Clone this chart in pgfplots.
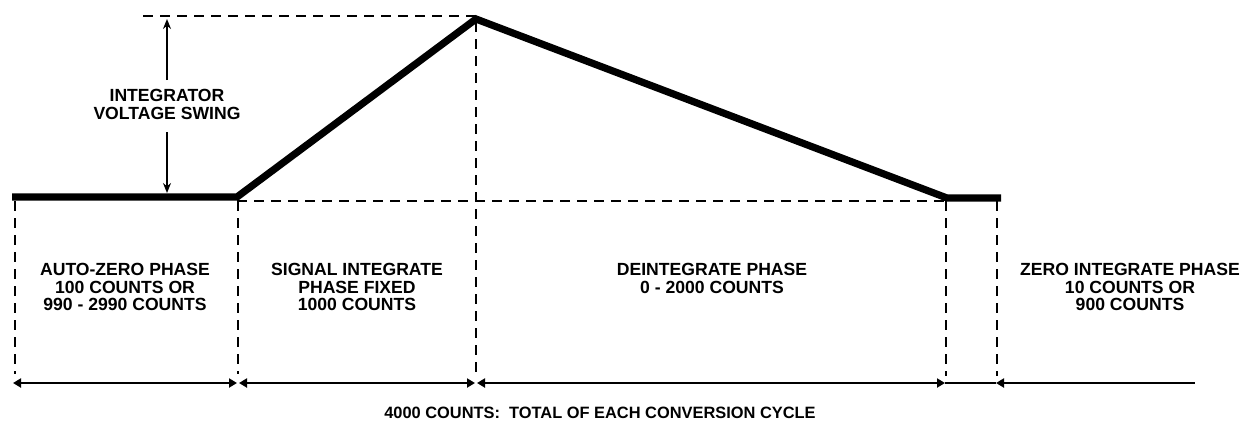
\documentclass[border=0pt]{standalone}
\usepackage{fontspec}
\setmainfont{Liberation Sans}
\usepackage{pgfplots}
\pgfplotsset{compat=1.18}
\usetikzlibrary{arrows.meta}
\tikzset{lbl/.style={font=\fontsize{8.8}{8.6}\selectfont\bfseries, align=center, inner sep=0pt}}
\begin{document}
\begin{tikzpicture}
\begin{axis}[
  scale only axis, width=624.5pt, height=212pt,
  xmin=0, xmax=1249, ymin=0, ymax=424, y dir=reverse,
  hide axis, clip=false,
]
% invisible frame for bounding box
\addplot[draw=none] coordinates {(0,0) (1249,424)};
% dashed guides
\pgfplotsset{guide/.style={black, line width=0.75pt, dash pattern=on 5pt off 3.5pt}}
\addplot[guide] coordinates {(143,16) (476,16)};
\addplot[guide] coordinates {(237,201) (947,201)};
\addplot[guide] coordinates {(15,201) (15,374)};
\addplot[guide] coordinates {(238,201) (238,374)};
\addplot[guide] coordinates {(476,22) (476,374)};
\addplot[guide] coordinates {(946,201) (946,376)};
\addplot[guide] coordinates {(997,201) (997,376)};
% integrator waveform
\addplot[black, line width=3.6pt, line join=miter] coordinates {(12,197) (237,197) (476,19) (947,198) (1001,198)};
% voltage swing arrows
\addplot[black, line width=0.7pt, -{Stealth[length=5pt,width=4pt]}] coordinates {(167,80) (167,19)};
\addplot[black, line width=0.7pt, -{Stealth[length=5pt,width=4pt]}] coordinates {(167,132) (167,193)};
% phase arrows
\pgfplotsset{parrow/.style={black, line width=1pt, {Triangle[length=4pt,width=4.5pt]}-{Triangle[length=4pt,width=4.5pt]}}}
\addplot[parrow] coordinates {(13,383) (237,383)};
\addplot[parrow] coordinates {(239,383) (475,383)};
\addplot[parrow] coordinates {(477,383) (945,383)};
\addplot[black, line width=1pt] coordinates {(945,383) (996,383)};
\addplot[black, line width=1pt, {Triangle[length=4pt,width=4.5pt]}-] coordinates {(996,383) (1195,383)};
% labels
\node[lbl] at (axis cs:167,104.5) {INTEGRATOR\\VOLTAGE SWING};
\node[lbl] at (axis cs:125,287) {AUTO-ZERO PHASE\\100 COUNTS OR\\990 - 2990 COUNTS};
\node[lbl] at (axis cs:357,287) {SIGNAL INTEGRATE\\PHASE FIXED\\1000 COUNTS};
\node[lbl] at (axis cs:712,278.5) {DEINTEGRATE PHASE\\0 - 2000 COUNTS};
\node[lbl] at (axis cs:1130,287) {ZERO INTEGRATE PHASE\\10 COUNTS OR\\900 COUNTS};
\node[lbl, font=\fontsize{8.2}{8.6}\selectfont\bfseries] at (axis cs:600,413) {4000 COUNTS:\ \ TOTAL OF EACH CONVERSION CYCLE};
\end{axis}
\end{tikzpicture}
\end{document}
